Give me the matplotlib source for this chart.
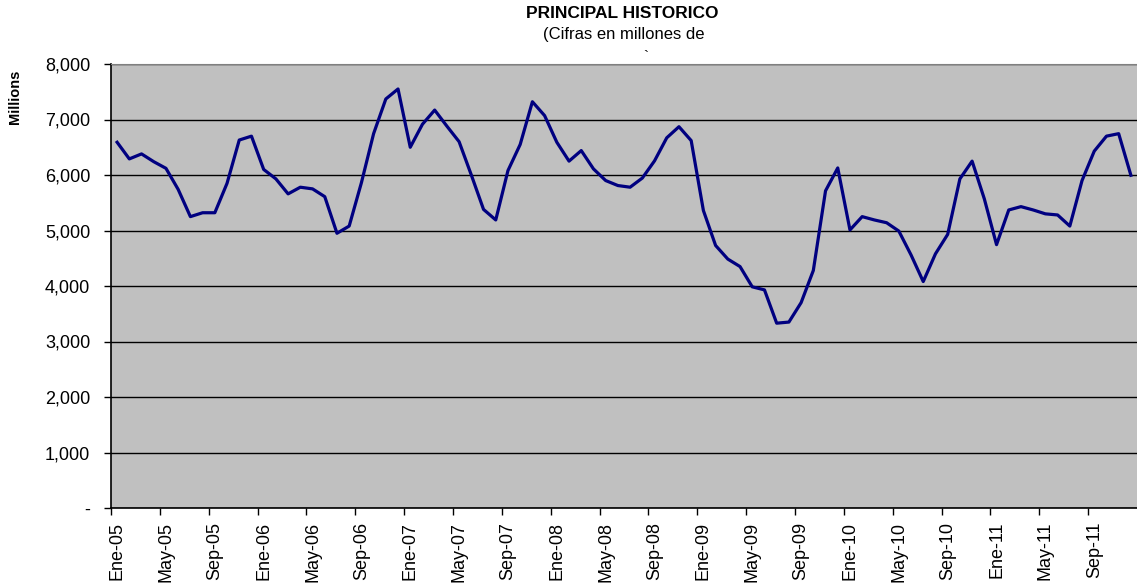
import matplotlib.pyplot as plt
from matplotlib.ticker import FuncFormatter

plt.rcParams['font.family'] = ['Liberation Sans', 'DejaVu Sans']

# Meses (categorias) Ene-05 .. Dic-11
meses = ['Ene', 'Feb', 'Mar', 'Abr', 'May', 'Jun', 'Jul', 'Ago', 'Sep', 'Oct', 'Nov', 'Dic']
anios = ['05', '06', '07', '08', '09', '10', '11']
fechas = [f'{m}-{a}' for a in anios for m in meses]

# Principal historico (millones)
principal = [
    6590, 6290, 6380, 6240, 6120, 5740, 5250, 5320, 5320, 5850, 6630, 6700,
    6100, 5930, 5660, 5780, 5750, 5610, 4950, 5080, 5860, 6745, 7370, 7550,
    6500, 6915, 7170, 6880, 6600, 6000, 5380, 5190, 6080, 6550, 7320, 7070,
    6590, 6250, 6440, 6110, 5900, 5810, 5780, 5945, 6255, 6670, 6870, 6620,
    5360, 4730, 4485, 4350, 3985, 3930, 3330, 3350, 3700, 4280, 5715, 6127,
    5010, 5250, 5190, 5140, 4990, 4560, 4080, 4580, 4930, 5930, 6250, 5570,
    4745, 5370, 5430, 5370, 5300, 5280, 5080, 5900, 6430, 6700, 6745, 5995,
]

yticks = [0, 1000, 2000, 3000, 4000, 5000, 6000, 7000, 8000]

fig = plt.figure(figsize=(11.37, 5.86), dpi=100)
ax = fig.add_axes([111 / 1137, 78 / 586, 1026 / 1137, 444 / 586])
ax.set_facecolor('#C0C0C0')

x = list(range(len(principal)))
ax.plot(x, principal, color='#000080', lw=2.3, zorder=3)

ax.set_xlim(-0.5, len(principal) - 0.5)
ax.set_ylim(0, 8000)
ax.set_yticks(yticks)
ax.yaxis.set_major_formatter(FuncFormatter(lambda v, p: '-' if v == 0 else f'{int(v):,}'))
ax.grid(axis='y', color='black', lw=1, zorder=1)

# etiquetas cada 4 meses, centradas en la categoria; marcas en los limites
lab_pos = x[::4]
ax.set_xticks(lab_pos)
ax.set_xticklabels([fechas[i] for i in lab_pos], rotation=90, fontsize=13)
ax.set_xticks([i - 0.5 for i in lab_pos], minor=True)
ax.tick_params(axis='x', which='major', length=0, pad=10)
ax.tick_params(axis='x', which='minor', length=5, width=1, direction='out')
ax.tick_params(axis='y', length=5, width=1, pad=10, labelsize=13)

ax.spines['right'].set_visible(False)
ax.spines['top'].set_color('#808080')
ax.spines['left'].set_linewidth(1.2)
ax.spines['bottom'].set_linewidth(1.2)

fig.text(15 / 1137, 1 - 97 / 586, 'Millions', rotation=90, fontsize=10.5,
         fontweight='bold', ha='center', va='center')
fig.text(622 / 1137, 1 - 14 / 586, 'PRINCIPAL HISTORICO', fontsize=12.5,
         fontweight='bold', ha='center', va='center')
fig.text(624 / 1137, 1 - 34 / 586, '(Cifras en millones de', fontsize=12,
         ha='center', va='center')
fig.text(646 / 1137, 1 - 57 / 586, '`', fontsize=11, ha='center', va='center')

fig.savefig('out.png', dpi=100)
